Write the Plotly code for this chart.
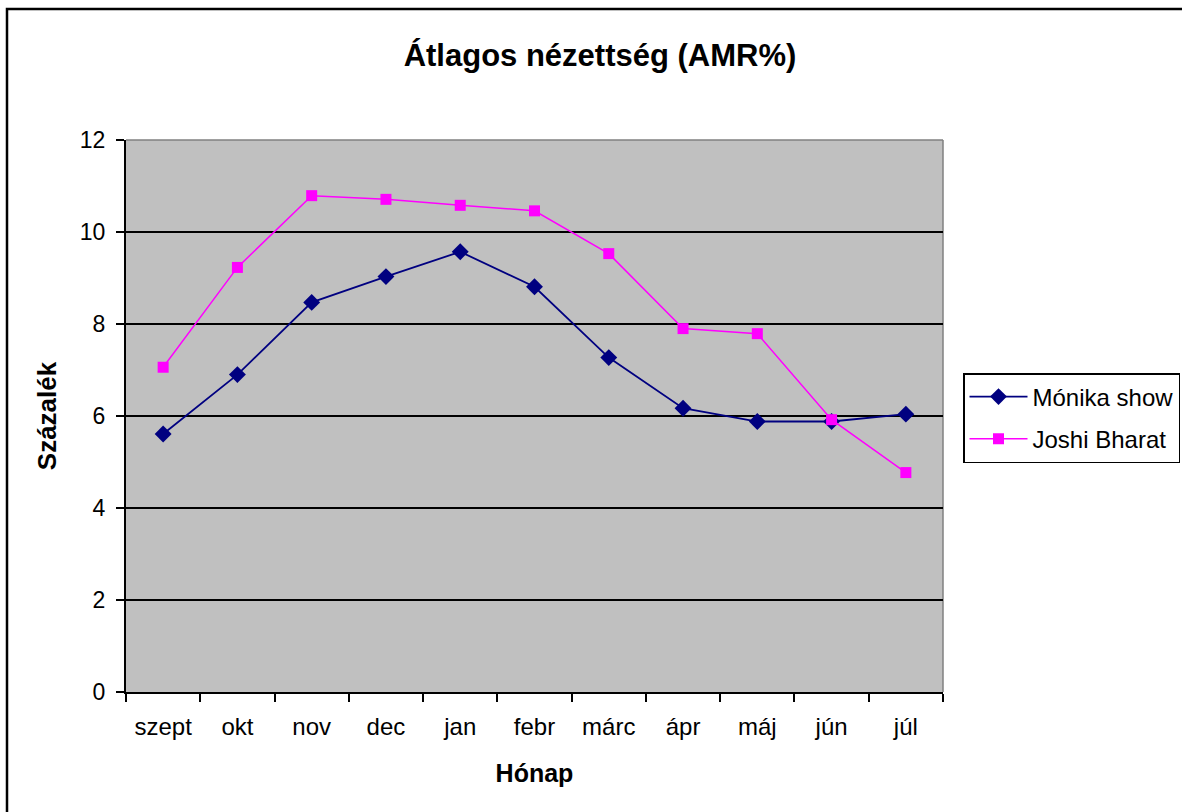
import plotly.graph_objects as go

months = ["szept", "okt", "nov", "dec", "jan", "febr", "márc", "ápr", "máj", "jún", "júl"]
monika = [5.61, 6.90, 8.47, 9.03, 9.57, 8.81, 7.27, 6.17, 5.88, 5.88, 6.04]
joshi = [7.06, 9.23, 10.79, 10.71, 10.58, 10.46, 9.53, 7.90, 7.79, 5.92, 4.77]
y_ticks = [0, 2, 4, 6, 8, 10, 12]

W, H = 1182, 812
L, R, T, B = 126, 239, 140, 120
pw, ph = W - L - R, H - T - B

def px_x(x):
    return (x - L) / pw

def px_y(y):
    return (T + ph - y) / ph

fig = go.Figure()
fig.add_trace(go.Scatter(
    x=months, y=monika, name="Mónika show", mode="lines+markers",
    legendgroup="a",
    line=dict(color="#000080", width=1.8),
    marker=dict(symbol="diamond", size=13, color="#000080"),
))
fig.add_trace(go.Scatter(
    x=months, y=joshi, name="Joshi Bharat", mode="lines+markers",
    legendgroup="b",
    line=dict(color="#FF00FF", width=1.5),
    marker=dict(symbol="square", size=11, color="#FF00FF"),
))

fig.update_layout(
    width=W, height=H,
    margin=dict(l=L, r=R, t=T, b=B, autoexpand=False),
    paper_bgcolor="white", plot_bgcolor="#C0C0C0",
    font=dict(family="Arial, Liberation Sans, sans-serif", size=23, color="black"),
    title=dict(text="<b>Átlagos nézettség (AMR%)</b>", x=600 / W, xanchor="center",
               y=1 - 55 / H, yanchor="middle", font=dict(size=31)),
    showlegend=True,
    legend=dict(x=px_x(963), xanchor="left", y=px_y(373), yanchor="top",
                bgcolor="white", bordercolor="black", borderwidth=1.5,
                font=dict(size=24), itemwidth=58, tracegroupgap=8,
                traceorder="grouped"),
    xaxis=dict(
        type="category", range=[-0.5, 10.5], tickson="boundaries",
        ticks="outside", ticklen=8, tickcolor="black", tickwidth=1.5,
        showline=True, linecolor="black", linewidth=2, showgrid=False,
        ticklabelstandoff=12,
        title=dict(text="<b>Hónap</b>", standoff=26, font=dict(size=25)),
        tickfont=dict(size=24),
    ),
    yaxis=dict(
        range=[0, 12], tickvals=y_ticks, ticks="outside", ticklen=8,
        tickcolor="black", tickwidth=1.5,
        showline=True, linecolor="black", linewidth=2,
        showgrid=True, gridcolor="black", gridwidth=1.5, zeroline=False,
        ticklabelstandoff=6,
        title=dict(text="<b>Százalék</b>", standoff=16, font=dict(size=26)),
        tickfont=dict(size=23),
    ),
)

# plot area border (gray top/right)
fig.add_shape(type="line", xref="paper", yref="paper", x0=0, x1=1, y0=1, y1=1,
              line=dict(color="#808080", width=1.5), layer="below")
fig.add_shape(type="line", xref="paper", yref="paper", x0=1, x1=1, y0=0, y1=1,
              line=dict(color="#808080", width=1.5), layer="below")

# outer chart border (right/bottom edges fall outside the picture)
fig.add_shape(type="rect", xref="paper", yref="paper",
              x0=px_x(7), x1=px_x(W + 10),
              y0=px_y(H + 10), y1=px_y(9),
              line=dict(color="black", width=2.5))

fig.write_html("out.html", config={"displayModeBar": False},
               post_script="document.body.style.margin='0';")
